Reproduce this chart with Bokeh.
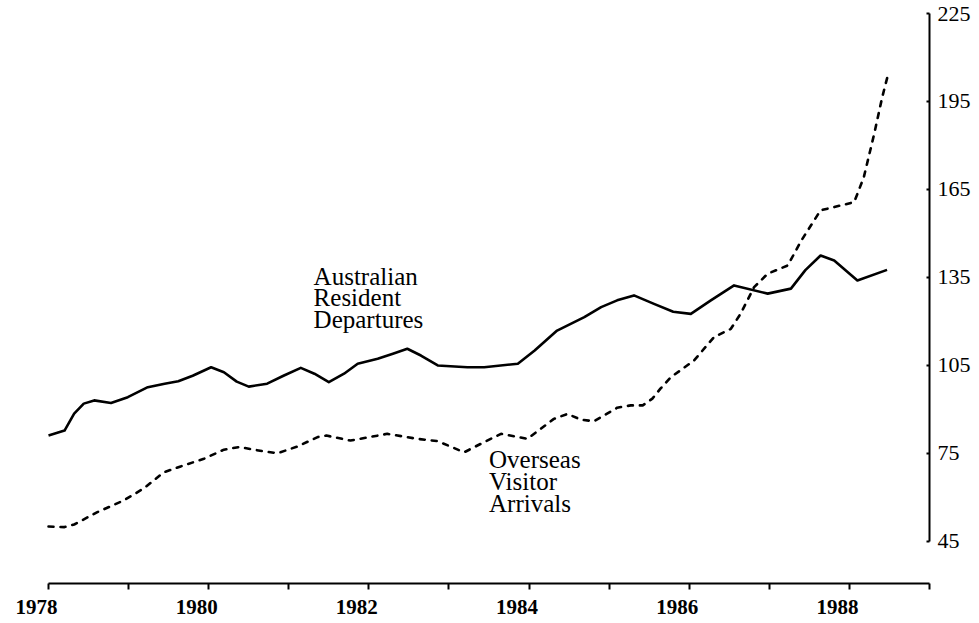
from bokeh.plotting import figure
from bokeh.models import Range1d, LinearAxis, FixedTicker, ColumnDataSource
from bokeh.core.properties import value
from bokeh.embed import file_html
from bokeh.resources import INLINE

# Australian resident departures (solid line), index values
dep_year = [1978.00, 1978.20, 1978.32, 1978.44, 1978.57, 1978.78, 1978.99, 1979.24,
            1979.45, 1979.62, 1979.80, 1980.03, 1980.19, 1980.35, 1980.50, 1980.73,
            1980.94, 1981.15, 1981.32, 1981.50, 1981.69, 1981.86, 1982.11, 1982.30,
            1982.48, 1982.65, 1982.86, 1983.23, 1983.44, 1983.86, 1984.07, 1984.35,
            1984.69, 1984.90, 1985.10, 1985.31, 1985.56, 1985.80, 1986.02, 1986.27,
            1986.56, 1986.98, 1987.27, 1987.45, 1987.64, 1987.81, 1988.10, 1988.47]
dep_value = [81.1, 82.8, 88.6, 92.0, 93.1, 92.2, 94.2, 97.6,
             98.8, 99.6, 101.5, 104.4, 102.7, 99.5, 97.8, 98.8,
             101.6, 104.2, 102.2, 99.3, 102.2, 105.6, 107.3, 109.0,
             110.7, 108.4, 105.0, 104.4, 104.4, 105.6, 110.1, 116.9,
             121.5, 124.9, 127.2, 128.9, 126.0, 123.3, 122.6, 127.2,
             132.3, 129.5, 131.2, 137.5, 142.5, 140.8, 134.0, 137.6]

# Overseas visitor arrivals (dashed line)
arr_year = [1978.00, 1978.20, 1978.32, 1978.61, 1978.94, 1979.19, 1979.44, 1979.65,
            1979.94, 1980.19, 1980.38, 1980.69, 1980.86, 1981.11, 1981.36, 1981.47,
            1981.77, 1982.23, 1982.60, 1982.86, 1983.19, 1983.44, 1983.65, 1983.98,
            1984.31, 1984.48, 1984.65, 1984.81, 1984.98, 1985.10, 1985.27, 1985.42,
            1985.54, 1985.64, 1985.77, 1986.06, 1986.31, 1986.52, 1986.64, 1986.81,
            1986.98, 1987.23, 1987.40, 1987.64, 1987.81, 1988.06, 1988.18, 1988.31,
            1988.41, 1988.49]
arr_value = [50.1, 49.9, 50.8, 55.0, 59.0, 63.1, 68.6, 70.6,
             73.2, 76.3, 77.2, 75.7, 75.1, 77.4, 80.6, 81.1,
             79.4, 81.7, 80.0, 79.2, 75.4, 78.9, 81.7, 80.0,
             86.8, 88.5, 86.5, 86.0, 88.7, 90.6, 91.4, 91.4,
             93.7, 97.1, 101.0, 106.7, 114.7, 117.5, 122.6, 131.7,
             136.3, 139.1, 147.6, 157.9, 159.0, 160.7, 169.2, 184.0,
             196.5, 205.0]

x_tick_years = list(range(1978, 1990))
x_label_years = [1978, 1980, 1982, 1984, 1986, 1988]
y_ticks = [45, 75, 105, 135, 165, 195, 225]

series_labels = ["Australian\nResident\nDepartures", "Overseas\nVisitor\nArrivals"]
series_label_x = [1981.31, 1983.50]
series_label_y = [140.0, 77.4]

p = figure(frame_width=897, frame_height=575, output_backend="svg",
           toolbar_location=None, y_axis_location="right",
           x_axis_type=None,
           min_border_left=32, min_border_top=8, min_border_right=0, min_border_bottom=40,
           x_range=Range1d(1977.8, 1989.0), y_range=Range1d(30.68, 226.7))
p.outline_line_color = None
p.background_fill_color = "white"
p.border_fill_color = "white"
p.grid.visible = False

# x axis on a range shifted a little so that the year labels sit slightly
# left of their ticks, as in the original; the ticks themselves are drawn
# as minor ticks at the true year positions
d = 0.15
p.extra_x_ranges = {"lab": Range1d(1977.8 + d, 1989.0 + d)}
xa = LinearAxis(x_range_name="lab",
                ticker=FixedTicker(ticks=x_label_years,
                                   minor_ticks=[yr + d for yr in x_tick_years]),
                bounds=(1978 + d, 1989 + d))
xa.axis_line_width = 2
xa.axis_line_color = "black"
xa.major_tick_line_color = None
xa.major_tick_in = 0
xa.major_tick_out = 0
xa.minor_tick_line_color = "black"
xa.minor_tick_line_width = 2
xa.minor_tick_in = 0
xa.minor_tick_out = 6
xa.major_label_standoff = 10
xa.major_label_text_font = "Liberation Serif"
xa.major_label_text_font_style = "bold"
xa.major_label_text_font_size = "21px"
xa.major_label_text_color = "black"
p.add_layout(xa, "below")

# right y axis
ya = p.yaxis[0]
ya.ticker = FixedTicker(ticks=y_ticks)
ya.bounds = (45, 225)
ya.axis_line_width = 2
ya.axis_line_color = "black"
ya.major_tick_in = 3
ya.major_tick_out = 0
ya.major_tick_line_width = 2
ya.minor_tick_line_color = None
ya.major_label_standoff = 8
ya.major_label_text_font = "Liberation Serif"
ya.major_label_text_font_size = "22px"
ya.major_label_text_color = "black"

p.line(dep_year, dep_value, line_color="black", line_width=2.6, line_join="round")
p.line(arr_year, arr_value, line_color="black", line_width=2.6, line_dash="5 7",
       line_cap="round")

src = ColumnDataSource(dict(x=series_label_x, y=series_label_y, t=series_labels))
p.text(x="x", y="y", text="t", source=src, text_font=value("Liberation Serif"),
       text_font_size="25px", text_baseline="top", text_align="left",
       text_line_height=0.8, text_color="black")

open("out.html", "w").write(file_html(p, INLINE))
